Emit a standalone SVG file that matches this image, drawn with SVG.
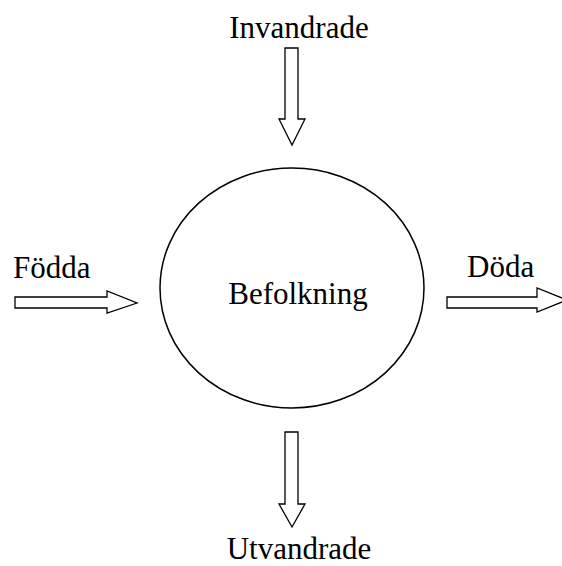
<svg xmlns="http://www.w3.org/2000/svg" width="562" height="566" viewBox="0 0 562 566">
<style>
.lbl{font-family:"Liberation Serif","Times New Roman",serif;font-size:31px;fill:#000}
.arr{fill:#fff;stroke:#000;stroke-width:1.3;stroke-linejoin:miter}
.node{fill:#fff;stroke:#000;stroke-width:1.5}
</style>
<rect width="562" height="566" fill="#fff"/>
<g id="befolkning">
<ellipse class="node" cx="292" cy="288" rx="132" ry="120"/>
<text class="lbl" x="298" y="304" text-anchor="middle">Befolkning</text>
</g>
<g id="invandrade">
<text class="lbl" x="299" y="38" text-anchor="middle">Invandrade</text>
</g>
<g id="utvandrade">
<text class="lbl" x="299" y="559" text-anchor="middle">Utvandrade</text>
</g>
<g id="fodda">
<text class="lbl" x="13" y="278">Födda</text>
</g>
<g id="doda">
<text class="lbl" x="467" y="277">Döda</text>
</g>
<g id="connectors">
<polygon class="arr" points="285,48 298,48 298,119 305,119 292,145 279,119 285,119"/>
<polygon class="arr" points="285,432 298,432 298,504 305,504 292,527 279,504 285,504"/>
<polygon class="arr" points="15,297 107,297 107,291 137,303 107,313 107,308 15,308"/>
<polygon class="arr" points="447,297 537,297 537,288 567,300 537,312 537,308 447,308"/>
</g>
</svg>
